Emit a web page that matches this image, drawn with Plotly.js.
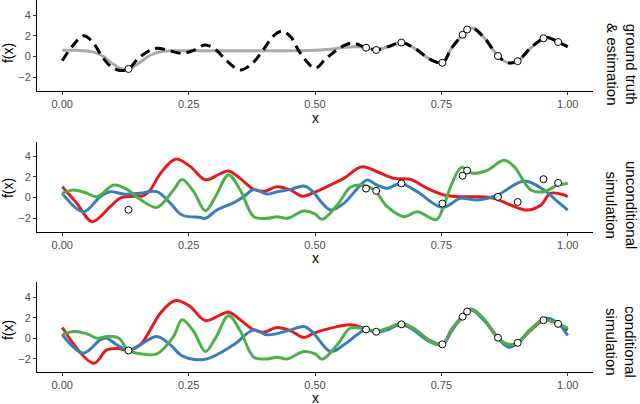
<!DOCTYPE html>
<html>
<head>
<meta charset="utf-8">
<script src="https://cdn.plot.ly/plotly-3.0.1.min.js"></script>
<style>
  html, body { margin: 0; padding: 0; background: #fff; }
  #myGraph { width: 640px; height: 404px; }
</style>
</head>
<body>
<div id="myGraph"></div>
<script>
// observed points (same in every panel)
var obsX = [0.131, 0.601, 0.621, 0.671, 0.752, 0.792, 0.801, 0.862, 0.901, 0.952, 0.981];
var obsY = [-1.2, 0.85, 0.63, 1.35, -0.6, 2.1, 2.6, 0.05, -0.45, 1.76, 1.4];

// panel 1 : estimation (grey) and ground truth (dashed)
var estX = [0, 0.03, 0.06, 0.08, 0.1, 0.115, 0.13, 0.15, 0.175, 0.2, 0.25, 0.3, 0.35, 0.4, 0.45, 0.5, 0.53, 0.56, 0.58, 0.601, 0.621, 0.645, 0.671, 0.7, 0.725, 0.752, 0.77, 0.792, 0.801, 0.812, 0.835, 0.862, 0.882, 0.901, 0.925, 0.952, 0.962, 0.981, 1.0];
var estY = [0.6, 0.6, 0.45, 0.05, -0.7, -1.15, -1.25, -0.7, 0.15, 0.5, 0.55, 0.55, 0.55, 0.55, 0.55, 0.6, 0.7, 0.9, 0.95, 0.85, 0.65, 0.95, 1.35, 0.7, -0.2, -0.6, 0.8, 2.1, 2.6, 2.75, 1.8, 0.05, -0.6, -0.45, 0.75, 1.76, 1.82, 1.4, 0.95];

var truthX = [0, 0.02, 0.042, 0.06, 0.08, 0.1, 0.118, 0.131, 0.15, 0.17, 0.187, 0.21, 0.237, 0.26, 0.283, 0.305, 0.325, 0.352, 0.375, 0.397, 0.418, 0.435, 0.452, 0.47, 0.5, 0.52, 0.545, 0.572, 0.601, 0.621, 0.645, 0.671, 0.7, 0.725, 0.752, 0.77, 0.792, 0.801, 0.812, 0.835, 0.862, 0.882, 0.901, 0.925, 0.952, 0.962, 0.981, 1.0];
var truthY = [-0.4, 1.0, 2.0, 1.4, -0.1, -1.1, -1.35, -1.2, -0.2, 0.5, 0.8, 0.6, 0.3, 0.6, 1.12, 0.6, -0.4, -1.3, -0.7, 0.6, 2.0, 2.45, 1.9, 0.4, -1.13, -0.3, 0.7, 1.3, 0.85, 0.65, 0.95, 1.35, 0.7, -0.2, -0.6, 0.8, 2.1, 2.6, 2.75, 1.8, 0.05, -0.6, -0.45, 0.75, 1.76, 1.82, 1.4, 0.95];

// panel 2 : unconditional simulation
var uRedX = [0, 0.029, 0.059, 0.095, 0.115, 0.14, 0.16, 0.174, 0.194, 0.224, 0.253, 0.283, 0.313, 0.329, 0.352, 0.379, 0.399, 0.425, 0.452, 0.475, 0.5, 0.531, 0.557, 0.593, 0.623, 0.656, 0.689, 0.722, 0.755, 0.788, 0.821, 0.854, 0.887, 0.92, 0.947, 0.966, 0.993, 1.0];
var uRedY = [1.03, -0.58, -2.35, -0.9, -0.05, 0.1, 0.15, 0.7, 2.3, 3.7, 3.0, 1.7, 2.3, 2.55, 1.84, 0.77, 0.6, 1.03, 0.7, 0.1, 0.5, 1.2, 1.84, 2.97, 2.48, 1.84, 1.74, 0.87, 0.23, 0.06, 0.06, -0.1, -0.74, -1.23, -0.74, 0.39, 0.23, 0.06];

var uBlueX = [0, 0.042, 0.075, 0.095, 0.121, 0.154, 0.187, 0.214, 0.237, 0.273, 0.283, 0.306, 0.339, 0.359, 0.379, 0.405, 0.425, 0.452, 0.478, 0.495, 0.515, 0.531, 0.557, 0.59, 0.603, 0.623, 0.643, 0.669, 0.702, 0.752, 0.788, 0.821, 0.861, 0.914, 0.953, 0.98, 1.0];
var uBlueY = [0.39, -1.39, 0.06, 0.55, 0.32, 0.39, 0.55, -0.58, -1.71, -1.94, -2.03, -1.23, -0.52, 0.06, 0.77, 0.32, 0.55, 0.77, 1.1, 0.6, -0.6, -1.23, -0.58, 1.19, 1.68, 1.19, 0.87, 1.35, 0.55, -0.97, -0.1, -0.26, 0.23, 1.58, 0.71, -0.42, -1.23];

var uGreenX = [0, 0.022, 0.049, 0.069, 0.102, 0.128, 0.154, 0.187, 0.22, 0.237, 0.26, 0.283, 0.303, 0.329, 0.352, 0.379, 0.405, 0.425, 0.445, 0.478, 0.5, 0.514, 0.544, 0.57, 0.59, 0.617, 0.643, 0.676, 0.702, 0.74, 0.752, 0.768, 0.79, 0.81, 0.84, 0.874, 0.894, 0.927, 0.953, 0.98, 1.0];
var uGreenY = [0.39, 0.71, 0.39, 0.06, 1.19, 0.77, -0.19, -0.97, 0.71, 1.74, 0.55, -1.29, 0.06, 2.16, 0.71, -1.87, -2.03, -1.87, -2.03, -1.32, -1.6, -2.13, -0.74, 0.97, 1.19, 0.71, -0.9, -1.87, -1.39, -2.15, -1.2, 1.0, 2.9, 2.35, 2.6, 3.6, 2.97, 0.71, 0.55, 1.19, 1.35];

// panel 3 : conditional simulation
var cRedX = [0, 0.062, 0.088, 0.11, 0.131, 0.154, 0.174, 0.194, 0.224, 0.253, 0.283, 0.329, 0.352, 0.379, 0.399, 0.425, 0.452, 0.478, 0.498, 0.531, 0.57, 0.601, 0.621, 0.645, 0.671, 0.7, 0.725, 0.752, 0.77, 0.792, 0.801, 0.812, 0.835, 0.862, 0.882, 0.901, 0.925, 0.952, 0.962, 0.981, 1.0];
var cRedY = [1.04, -2.44, -1.14, -1.0, -1.17, -0.65, 0.81, 2.44, 3.67, 3.09, 1.72, 2.54, 1.79, 0.81, 0.59, 1.04, 0.72, 0.07, 0.49, 0.98, 1.3, 0.9, 0.65, 0.95, 1.3, 0.75, -0.15, -0.6, 0.8, 2.1, 2.6, 2.75, 1.8, 0.05, -0.7, -0.45, 0.7, 1.76, 1.75, 1.4, 0.8];

var cBlueX = [0, 0.042, 0.075, 0.088, 0.108, 0.131, 0.154, 0.187, 0.214, 0.237, 0.283, 0.339, 0.379, 0.405, 0.452, 0.478, 0.495, 0.531, 0.557, 0.583, 0.601, 0.621, 0.645, 0.671, 0.7, 0.725, 0.752, 0.77, 0.792, 0.801, 0.808, 0.835, 0.862, 0.884, 0.901, 0.925, 0.957, 0.981, 1.0];
var cBlueY = [0.33, -1.46, -0.16, 0.0, -0.65, -1.17, -0.65, 0.16, -0.65, -1.72, -2.05, -0.65, 0.81, 0.33, 0.81, 1.14, 0.6, -1.3, -0.65, 0.33, 0.85, 0.55, 0.85, 1.4, 0.6, -0.3, -0.65, 0.7, 2.15, 2.65, 2.85, 1.7, 0.0, -0.88, -0.45, 0.8, 1.95, 1.46, 0.26];

var cGreenX = [0, 0.022, 0.049, 0.069, 0.092, 0.112, 0.131, 0.158, 0.187, 0.22, 0.237, 0.26, 0.283, 0.303, 0.329, 0.352, 0.379, 0.405, 0.425, 0.445, 0.478, 0.5, 0.514, 0.544, 0.57, 0.601, 0.621, 0.645, 0.671, 0.7, 0.725, 0.752, 0.77, 0.792, 0.801, 0.812, 0.835, 0.862, 0.884, 0.901, 0.925, 0.952, 0.981, 1.0];
var cGreenY = [0.33, 0.65, 0.42, 0.0, 0.2, 0.0, -1.17, -1.55, -1.53, 0.16, 1.79, 0.65, -1.3, 0.0, 2.18, 0.72, -1.85, -2.02, -1.85, -2.02, -1.3, -1.53, -2.05, -0.65, 0.98, 0.88, 0.65, 1.0, 1.45, 0.8, -0.2, -0.65, 0.85, 2.2, 2.7, 2.8, 1.8, 0.0, -0.6, -0.45, 0.75, 1.8, 1.4, 0.98];

var xTickVals = [0, 0.25, 0.5, 0.75, 1];
var xTickText = ['0.00', '0.25', '0.50', '0.75', '1.00'];
var yTickVals = [-2, 0, 2, 4];
var stripLabels = ['ground truth<br>& estimation', 'unconditional<br>simulation', 'conditional<br>simulation'];

var RED = '#E41A1C', BLUE = '#377EB8', GREEN = '#4DAF4A', GREY = '#A9A9A9';

// one line trace
function lineTrace(x, y, color, axisNo, dash) {
    return {
        x: x,
        y: y,
        xaxis: 'x' + (axisNo == 1 ? '' : axisNo),
        yaxis: 'y' + (axisNo == 1 ? '' : axisNo),
        type: 'scatter',
        mode: 'lines',
        line: { color: color, width: 3, shape: 'spline', smoothing: 1, dash: dash || 'solid' },
        hoverinfo: 'skip'
    };
}

function pointTrace(axisNo) {
    return {
        x: obsX,
        y: obsY,
        xaxis: 'x' + (axisNo == 1 ? '' : axisNo),
        yaxis: 'y' + (axisNo == 1 ? '' : axisNo),
        type: 'scatter',
        mode: 'markers',
        marker: { size: 7, color: 'white', line: { color: 'black', width: 1 } }
    };
}

var data = [
    lineTrace(estX, estY, GREY, 1),
    lineTrace(truthX, truthY, 'black', 1, '10px,6px'),
    pointTrace(1),
    lineTrace(uRedX, uRedY, RED, 2),
    lineTrace(uBlueX, uBlueY, BLUE, 2),
    lineTrace(uGreenX, uGreenY, GREEN, 2),
    pointTrace(2),
    lineTrace(cRedX, cRedY, RED, 3),
    lineTrace(cBlueX, cBlueY, BLUE, 3),
    lineTrace(cGreenX, cGreenY, GREEN, 3),
    pointTrace(3)
];

var tickFont = { family: 'Liberation Sans, Arial, sans-serif', size: 11, color: '#4D4D4D' };

function xAxis(anchor) {
    return {
        anchor: anchor,
        domain: [0, 1],
        range: [-0.05, 1.05],
        tickvals: xTickVals,
        ticktext: xTickText,
        ticks: 'outside', ticklen: 3, tickcolor: '#333',
        showline: true, linecolor: 'black', linewidth: 1,
        showgrid: false, zeroline: false,
        tickfont: tickFont
    };
}

function yAxis(anchor, domain, range) {
    return {
        anchor: anchor,
        domain: domain,
        range: range,
        tickvals: yTickVals,
        ticks: 'outside', ticklen: 3, tickcolor: '#333',
        showline: true, linecolor: 'black', linewidth: 1,
        showgrid: false, zeroline: false,
        tickfont: tickFont
    };
}

var titleFont = { family: 'Liberation Sans, Arial, sans-serif', size: 14, color: 'black' };
var stripFont = { family: 'Liberation Sans, Arial, sans-serif', size: 15, color: 'black' };

var annotations = [];
var yTitlePos = [0.8575, 0.4946, 0.1129];
var xTitlePos = [0.6828, 0.3065, -0.0699];
var stripPos = [0.828, 0.449, 0.0806];
for (var i = 0; i < 3; i++) {
    annotations.push({ text: 'f(x)', xref: 'paper', yref: 'paper', x: -0.052, y: yTitlePos[i], textangle: -90,
        showarrow: false, xanchor: 'center', yanchor: 'middle', font: titleFont });
    annotations.push({ text: 'x', xref: 'paper', yref: 'paper', x: 0.5, y: xTitlePos[i],
        showarrow: false, xanchor: 'center', yanchor: 'middle', font: titleFont });
    annotations.push({ text: stripLabels[i], xref: 'paper', yref: 'paper', x: 1.0504, y: stripPos[i], textangle: 90,
        showarrow: false, xanchor: 'center', yanchor: 'middle', align: 'center', font: stripFont });
}

var layout = {
    width: 640,
    height: 404,
    margin: { l: 37, r: 47, t: 0, b: 32 },
    showlegend: false,
    paper_bgcolor: 'white',
    plot_bgcolor: 'white',
    font: { family: 'Liberation Sans, Arial, sans-serif' },
    xaxis: xAxis('y'),
    yaxis: yAxis('x', [0.756, 1], [-3.3, 5.45]),
    xaxis2: xAxis('y2'),
    yaxis2: yAxis('x2', [0.377, 0.618], [-3.33, 5.35]),
    xaxis3: xAxis('y3'),
    yaxis3: yAxis('x3', [0, 0.241], [-3.3, 5.45]),
    annotations: annotations
};

var config = { displayModeBar: false, responsive: false, staticPlot: true };

Plotly.newPlot('myGraph', data, layout, config);
</script>
</body>
</html>
